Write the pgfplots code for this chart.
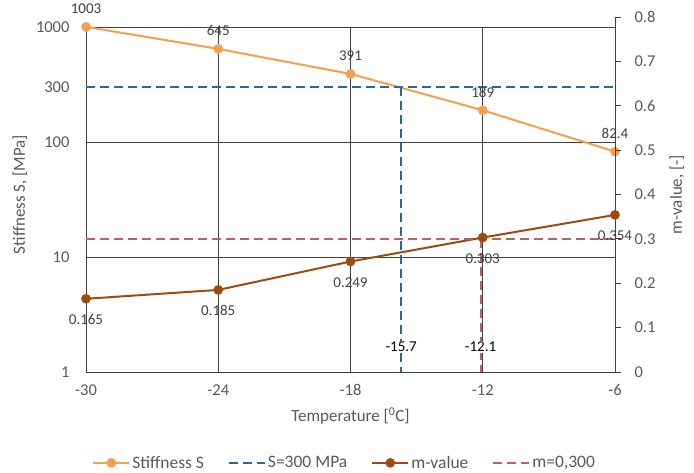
\documentclass[border=0pt]{standalone}
\usepackage{pgfplots}
\pgfplotsset{compat=1.18}
\usepackage{fontspec}
\setmainfont{Carlito}
\definecolor{sorange}{RGB}{244,160,80}
\definecolor{mbrown}{RGB}{158,75,18}
\definecolor{sblue}{RGB}{36,106,158}
\definecolor{mred}{RGB}{188,96,96}
\definecolor{gridc}{RGB}{64,64,64}
\definecolor{txt}{RGB}{89,89,89}
\definecolor{lbl}{RGB}{64,64,64}
\pgfplotsset{
  common/.style={scale only axis, width=529pt, height=355pt, xmin=-30, xmax=-6, clip=false,
    tick label style={font=\fontsize{16.5}{18}\selectfont, text=txt},
    /pgf/number format/assume math mode=true},
}
\begin{document}
\begin{tikzpicture}
\useasboundingbox (-86pt,-101pt) rectangle (608pt,372pt);
\begin{axis}[common, ymode=log, ymin=1, ymax=1222,
  axis line style={draw=none}, major tick length=0pt,
  xtick={-30,-24,-18,-12,-6}, xticklabels={-30,-24,-18,-12,-6},
  ytick={1,10,100,300,1000}, yticklabels={1,10,100,300,1000},
  xticklabel style={yshift=-9pt},
  yticklabel style={xshift=-13pt},
  xlabel={Temperature [\textsuperscript{0}C]},
  ylabel={Stiffness S, [MPa]},
  every axis x label/.style={at={(axis description cs:0.5,0)}, yshift=-44pt, anchor=center, font=\fontsize{17}{19}\selectfont, text=txt},
  every axis y label/.style={at={(axis description cs:0,0.5)}, xshift=-66pt, anchor=center, rotate=90, font=\fontsize{17}{19}\selectfont, text=txt},
]
% grid lines and left/bottom axis lines
\draw[gridc, line width=0.8pt] (axis cs:-30,1) -- (axis cs:-6,1);
\draw[gridc, line width=0.8pt] (axis cs:-30,10) -- (axis cs:-6,10);
\draw[gridc, line width=0.8pt] (axis cs:-30,100) -- (axis cs:-6,100);
\draw[gridc, line width=0.8pt] (axis cs:-30,1000) -- (axis cs:-6,1000);
\draw[gridc, line width=0.8pt] (axis cs:-30,1) -- (axis cs:-30,1000);
\draw[gridc, line width=0.8pt] (axis cs:-24,1) -- (axis cs:-24,1000);
\draw[gridc, line width=0.8pt] (axis cs:-18,1) -- (axis cs:-18,1000);
\draw[gridc, line width=0.8pt] (axis cs:-12,1) -- (axis cs:-12,1000);

\addplot[sorange, line width=2pt, mark=*, mark size=3.8pt, mark options={fill=sorange, draw=sorange},
  nodes near coords, point meta=explicit symbolic,
  every node near coord/.append style={anchor=center, yshift=18pt, text=lbl, font=\fontsize{15}{16}\selectfont, inner sep=0pt}]
  table[meta=label] {
x y label
-30 1003 1003
-24 645 645
-18 391 391
-12 189 189
-6 82.4 82.4
};
\addplot[sblue, line width=2pt, dash pattern=on 9pt off 5pt] coordinates {(-30,300) (-6,300)};
\addplot[sblue, line width=2pt, dash pattern=on 9pt off 5pt,
  nodes near coords, point meta=explicit symbolic,
  every node near coord/.append style={anchor=center, yshift=25pt, text=black, fill=white, font=\fontsize{15}{16}\selectfont, inner sep=1.5pt}]
  coordinates {(-15.7,300) [] (-15.7,1) [-15.7]};
\end{axis}

\begin{axis}[common, ymin=0, ymax=0.8,
  axis x line=none, axis y line*=right,
  axis line style={gridc, line width=0.8pt, -},
  every outer y axis line/.append style={-},
  ytick={0,0.1,0.2,0.3,0.4,0.5,0.6,0.7,0.8},
  yticklabels={0,0.1,0.2,0.3,0.4,0.5,0.6,0.7,0.8},
  tick align=outside, major tick length=6pt,
  tick style={gridc, line width=0.8pt},
  yticklabel style={anchor=west, xshift=10pt},
  ylabel={m-value, [-]},
  every axis y label/.style={at={(axis description cs:1,0.5)}, xshift=62pt, anchor=center, rotate=90, font=\fontsize{17}{19}\selectfont, text=txt},
  legend style={at={(0.489,-0.256)}, anchor=center, draw=none, fill=none,
    font=\fontsize{17.5}{19}\selectfont, text=txt,
    /tikz/every even column/.append style={column sep=22pt}},
  legend columns=4,
  legend image code/.code={\draw[mark repeat=2,mark phase=2,#1] plot coordinates {(0pt,0pt) (18pt,0pt) (36pt,0pt)};},
]
\addlegendimage{sorange, line width=2pt, mark=*, mark size=3.8pt, mark options={fill=sorange, draw=sorange}}
\addlegendentry{Stiffness S}
\addlegendimage{sblue, line width=2pt, dash pattern=on 9pt off 5pt}
\addlegendentry{S=300 MPa}
\addplot[mbrown, line width=2pt, mark=*, mark size=3.8pt, mark options={fill=mbrown, draw=mbrown},
  nodes near coords, point meta=explicit symbolic,
  every node near coord/.append style={anchor=center, yshift=-21pt, text=lbl, font=\fontsize{15}{16}\selectfont, inner sep=0pt}]
  table[meta=label] {
x y label
-30 0.165 0.165
-24 0.185 0.185
-18 0.249 0.249
-12 0.303 0.303
-6 0.354 0.354
};
\addlegendentry{m-value}
\addplot[mred, line width=2pt, dash pattern=on 9pt off 5pt] coordinates {(-30,0.3) (-6,0.3)};
\addlegendentry{m=0,300}
\addplot[mred, line width=2pt, dash pattern=on 9pt off 5pt, forget plot,
  nodes near coords, point meta=explicit symbolic,
  every node near coord/.append style={anchor=center, yshift=25pt, text=black, fill=white, font=\fontsize{15}{16}\selectfont, inner sep=1.5pt}]
  coordinates {(-12.1,0.3) [] (-12.1,0) [-12.1]};
\end{axis}
\end{tikzpicture}
\end{document}
